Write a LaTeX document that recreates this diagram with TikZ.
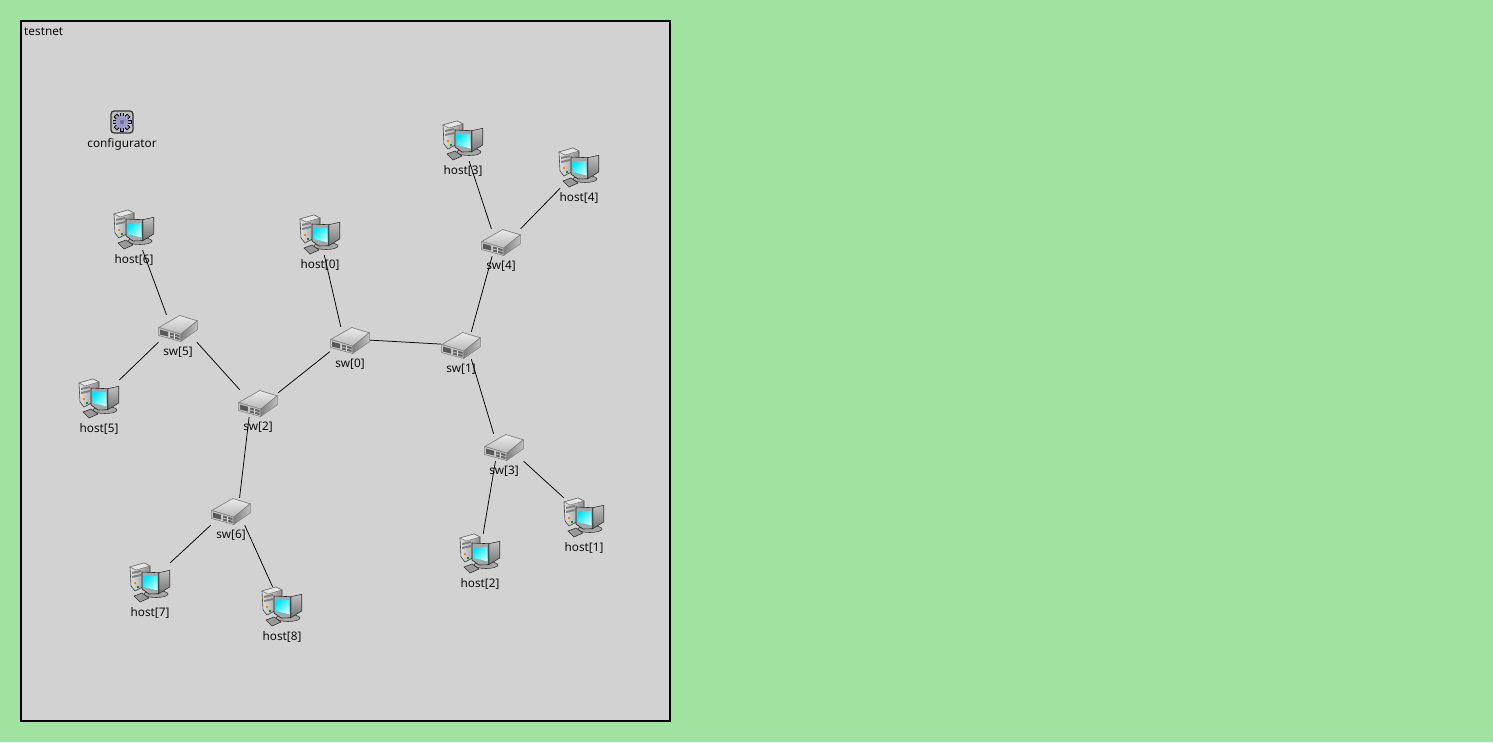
\documentclass[tikz,border=0pt]{standalone}
\usepackage{fontspec}
\setmainfont{Noto Sans}
\usepackage{xcolor}
\usepackage{tikz}
\usetikzlibrary{positioning}
\definecolor{pagegreen}{HTML}{A0E3A0}
\definecolor{netgray}{HTML}{D2D2D2}
\definecolor{gearfill}{HTML}{9C9AC6}
\definecolor{gearhub}{HTML}{6F6D96}
\tikzset{
    hostbox/.style={rectangle, minimum width=40pt, minimum height=40pt, inner sep=0pt},
    swbox/.style={rectangle, minimum width=40pt, minimum height=27pt, inner sep=0pt},
    confbox/.style={rectangle, minimum width=24pt, minimum height=24pt, inner sep=0pt},
    tagtext/.style={font=\fontsize{11.8}{14}\selectfont, inner sep=0pt, text=black!95},
    link/.style={draw=black, line width=0.75pt},
    hosticon/.pic={
        % tower
        \draw[draw=black!75, line width=0.6pt, left color=black!12, right color=black!45] (-20,-16) -- (-6,-20) -- (0,-17) -- (0,0) -- (-15,8) -- (-19,3) -- cycle;
        \draw[draw=black!55, line width=0.5pt, fill=black!10] (-20,-16) -- (-6,-20) -- (0,-17) -- (-14,-13) -- cycle;
        \fill[black!50] (-18,-11) -- (-9,-13) -- (-9,-11) -- (-18,-9) -- cycle;
        \fill[black!50] (-18,-7) -- (-9,-9) -- (-9,-7) -- (-18,-5) -- cycle;
        \fill[orange] (-16,-1) rectangle (-14,1);
        \fill[green!60!black] (-13,3) rectangle (-11,5);
        % stand
        \draw[draw=black!75, line width=0.6pt, fill=black!35] (6,11) ellipse (12 and 3.5);
        % monitor
        \draw[draw=black!80, line width=0.6pt, top color=black!25, bottom color=black!55] (8.7,-10.3) -- (19.7,-12.7) -- (19.7,4) -- (8.7,10.7) -- cycle;
        \draw[draw=black!85, line width=0.6pt, fill=black!35] (-8,-11) -- (8.7,-10.3) -- (8.7,10.7) -- (-1,11) -- (-8,6) -- cycle;
        \shade[left color=cyan!90!blue, right color=cyan!25, shading angle=45] (-7,-7) -- (7,-7) -- (7.6,7.3) -- (-6.3,4) -- cycle;
        % keyboard
        \draw[draw=black!80, line width=0.6pt, fill=black!40] (-16,13) -- (-8,10) -- (-1,15) -- (-10,19) -- cycle;
    },
    swicon/.pic={
        \draw[draw=black!50, line width=0.7pt, top color=black!8, bottom color=black!28] (-19.3,-1) -- (1.7,-13) -- (19.3,-7.7) -- (2.7,5.7) -- cycle;
        \draw[draw=black!50, line width=0.5pt, left color=black!50, right color=black!25] (2.7,5.7) -- (19.3,-7.7) -- (19.3,1.3) -- (2.7,13) -- cycle;
        \draw[draw=black!50, line width=0.6pt, fill=black!20] (-19.3,-1) -- (2.7,5.7) -- (2.7,13) -- (-19.3,7) -- cycle;
        \fill[black!65] (-18,1) -- (-10,3.3) -- (-10,8) -- (-18,6) -- cycle;
        \fill[black!60] (-8,4) -- (1.5,6.5) -- (1.5,11.5) -- (-8,9) -- cycle;
        \draw[black!15, line width=0.5pt] (-8,6.5) -- (1.5,9);
        \draw[black!15, line width=0.5pt] (-3.5,5) -- (-3.5,10.3);
    },
    conficon/.pic={
        \draw[draw=black!80, line width=1.2pt, fill=black!25, rounded corners=3pt] (-11,-11) rectangle (11,11);
        \foreach \ang in {0,45,...,315}
            \fill[black, rotate=\ang] (-2.3,-9.5) rectangle (2.3,0);
        \foreach \ang in {0,45,...,315}
            \fill[gearfill, rotate=\ang] (-1.4,-8.6) rectangle (1.4,0);
        \fill[gearfill] (0,0) circle (6.5);
        \fill[gearhub] (0,0) circle (2.2);
    }
}
\begin{document}
\begin{tikzpicture}[x=1pt, y=-1pt]
  \useasboundingbox[fill=pagegreen] (0,0) rectangle (1493,742);
  \draw[draw=black, line width=2pt, fill=netgray] (21,21) rectangle (670,721);
  \node[tagtext, anchor=north west] (testnet) at (24,27.5) {testnet};

  \node[confbox, label={[tagtext, label distance=4.5pt]below:configurator}] (configurator) at (122,122) {};
  \node[hostbox, label={[tagtext, label distance=4.5pt]below:{host[0]}}] (host0) at (320,235) {};
  \node[hostbox, label={[tagtext, label distance=4.5pt]below:{host[1]}}] (host1) at (584,518) {};
  \node[hostbox, label={[tagtext, label distance=4.5pt]below:{host[2]}}] (host2) at (480,554) {};
  \node[hostbox, label={[tagtext, label distance=4.5pt]below:{host[3]}}] (host3) at (463,141) {};
  \node[hostbox, label={[tagtext, label distance=4.5pt]below:{host[4]}}] (host4) at (579,168) {};
  \node[hostbox, label={[tagtext, label distance=4.5pt]below:{host[5]}}] (host5) at (99,399) {};
  \node[hostbox, label={[tagtext, label distance=4.5pt]below:{host[6]}}] (host6) at (134,230) {};
  \node[hostbox, label={[tagtext, label distance=4.5pt]below:{host[7]}}] (host7) at (150,583) {};
  \node[hostbox, label={[tagtext, label distance=4.5pt]below:{host[8]}}] (host8) at (282,607) {};
  \node[swbox, label={[tagtext, label distance=5pt]below:{sw[0]}}] (sw0) at (350,340.5) {};
  \node[swbox, label={[tagtext, label distance=5pt]below:{sw[1]}}] (sw1) at (461,345.5) {};
  \node[swbox, label={[tagtext, label distance=5pt]below:{sw[2]}}] (sw2) at (258,403.5) {};
  \node[swbox, label={[tagtext, label distance=5pt]below:{sw[3]}}] (sw3) at (504,447.5) {};
  \node[swbox, label={[tagtext, label distance=5pt]below:{sw[4]}}] (sw4) at (501,242.5) {};
  \node[swbox, label={[tagtext, label distance=5pt]below:{sw[5]}}] (sw5) at (178,328.5) {};
  \node[swbox, label={[tagtext, label distance=5pt]below:{sw[6]}}] (sw6) at (231,511.5) {};

  \foreach \n in {host0,host1,host2,host3,host4,host5,host6,host7,host8}
    \pic at (\n) {hosticon};
  \foreach \n in {sw0,sw1,sw2,sw3,sw4,sw5,sw6}
    \pic at (\n) {swicon};
  \pic at (configurator) {conficon};

  \draw[link] (sw0.124) -- (host0.-78);
  \draw[link] (sw0.1) -- (sw1.176);
  \draw[link] (sw0.209) -- (sw2.28);
  \draw[link] (sw1.53) -- (sw4.-123);
  \draw[link] (sw1.-53) -- (sw3.127);
  \draw[link] (sw2.143) -- (sw5.-36);
  \draw[link] (sw2.-123) -- (sw6.58);
  \draw[link] (sw3.-122) -- (host2.81);
  \draw[link] (sw3.-35) -- (host1.135);
  \draw[link] (sw4.125) -- (host3.-73);
  \draw[link] (sw4.35) -- (host4.-133);
  \draw[link] (sw5.130) -- (host6.-67);
  \draw[link] (sw5.215) -- (host5.43);
  \draw[link] (sw6.214) -- (host7.45);
  \draw[link] (sw6.-45) -- (host8.115);
\end{tikzpicture}
\end{document}
